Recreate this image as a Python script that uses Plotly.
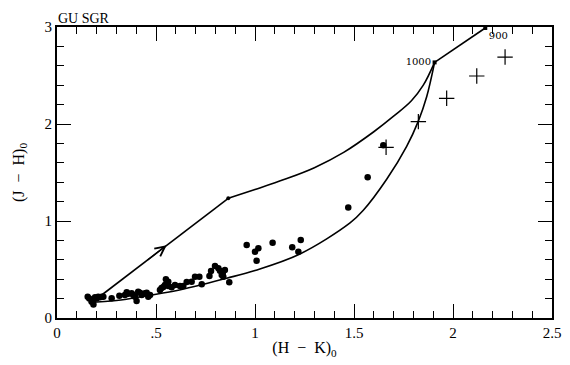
import plotly.graph_objects as go

# ---- data ----
dots_x = [0.155, 0.163, 0.175, 0.184, 0.184, 0.192, 0.200, 0.208, 0.217, 0.226, 0.234,
          0.276, 0.315, 0.343, 0.352, 0.360, 0.377, 0.385, 0.394, 0.402, 0.410, 0.419,
          0.428, 0.444, 0.453, 0.461, 0.470, 0.520, 0.528, 0.537, 0.545, 0.550, 0.562,
          0.562, 0.579, 0.596, 0.621, 0.638, 0.655, 0.680, 0.697, 0.719, 0.731, 0.770,
          0.778, 0.798, 0.815, 0.823, 0.832, 0.837, 0.848, 0.840, 0.870, 0.958, 1.000,
          1.017, 1.008, 1.089, 1.188, 1.219, 1.231, 1.471, 1.569, 1.648]
dots_y = [0.220, 0.200, 0.168, 0.140, 0.190, 0.213, 0.200, 0.220, 0.213, 0.220, 0.220,
          0.203, 0.230, 0.237, 0.265, 0.250, 0.254, 0.237, 0.220, 0.175, 0.271, 0.260,
          0.237, 0.254, 0.260, 0.220, 0.237, 0.289, 0.310, 0.320, 0.340, 0.399, 0.374,
          0.330, 0.316, 0.340, 0.330, 0.330, 0.370, 0.374, 0.426, 0.426, 0.347, 0.433,
          0.485, 0.536, 0.512, 0.488, 0.443, 0.460, 0.495, 0.426, 0.368, 0.753, 0.684,
          0.718, 0.591, 0.777, 0.729, 0.684, 0.804, 1.140, 1.450, 1.780]

plus_x = [1.662, 1.825, 1.968, 2.120, 2.263]
plus_y = [1.760, 2.025, 2.265, 2.495, 2.690]

# reddening vector / upper track
track_start_x = [0.226, 0.865]
track_start_y = [0.237, 1.234]
upper_curve_x = [0.865, 1.000, 1.150, 1.300, 1.450, 1.600, 1.700, 1.790, 1.850, 1.907]
upper_curve_y = [1.234, 1.325, 1.430, 1.550, 1.710, 1.920, 2.080, 2.240, 2.400, 2.635]
temp_x = [1.907, 2.163]
temp_y = [2.635, 2.990]
temp_labels = ["1000", "900"]

lower_curve_x = [0.160, 0.300, 0.470, 0.600, 0.857, 1.000, 1.227, 1.480, 1.547, 1.665,
                 1.766, 1.825, 1.867, 1.907]
lower_curve_y = [0.160, 0.180, 0.235, 0.280, 0.410, 0.490, 0.660, 0.980, 1.110, 1.430,
                 1.770, 2.030, 2.280, 2.635]

arrow_tip = (0.554, 0.750)
arrow_tail = (0.450, 0.587)

x_tickvals = [0, 0.5, 1, 1.5, 2, 2.5]
x_ticktext = ["0", ".5", "1", "1.5", "2", "2.5"]
y_tickvals = [0, 1, 2, 3]
y_ticktext = ["0", "1", "2", "3"]

FONT = "Liberation Serif"

fig = go.Figure()
line_style = dict(color="black", width=1.6)

fig.add_trace(go.Scatter(x=track_start_x, y=track_start_y, mode="lines", line=line_style))
fig.add_trace(go.Scatter(x=upper_curve_x, y=upper_curve_y, mode="lines",
                         line=dict(shape="spline", **line_style)))
fig.add_trace(go.Scatter(x=lower_curve_x, y=lower_curve_y, mode="lines",
                         line=dict(shape="spline", **line_style)))
fig.add_trace(go.Scatter(x=temp_x, y=temp_y, mode="lines+markers+text", line=line_style,
                         marker=dict(symbol="square", size=4, color="black"),
                         text=temp_labels, textposition=["middle left", "bottom right"],
                         textfont=dict(family="DejaVu Serif", size=10, color="black")))
fig.add_trace(go.Scatter(x=[track_start_x[1]], y=[track_start_y[1]], mode="markers",
                         marker=dict(size=4, color="black")))
fig.add_trace(go.Scatter(x=dots_x, y=dots_y, mode="markers",
                         marker=dict(size=6.5, color="black")))
fig.add_trace(go.Scatter(x=plus_x, y=plus_y, mode="markers",
                         marker=dict(symbol="cross-thin", size=11,
                                     line=dict(color="black", width=1.2))))

fig.add_annotation(x=arrow_tip[0], y=arrow_tip[1], ax=arrow_tail[0], ay=arrow_tail[1],
                   xref="x", yref="y", axref="x", ayref="y", text="", showarrow=True,
                   arrowhead=5, arrowsize=1.6, arrowwidth=1.2, arrowcolor="black")

fig.add_annotation(x=0, y=1, xref="paper", yref="paper", xanchor="left", yanchor="bottom",
                   yshift=0, borderpad=0, text="GU SGR", showarrow=False,
                   font=dict(family=FONT, size=14, color="black"))

axis_common = dict(showline=True, linewidth=2, linecolor="black", mirror="allticks",
                   ticks="inside", tickwidth=1.2, ticklen=14, tickcolor="black",
                   showgrid=False, zeroline=False, automargin=False,
                   tickfont=dict(family=FONT, size=15, color="black"))

fig.update_xaxes(range=[0, 2.5], tickvals=x_tickvals, ticktext=x_ticktext,
                 minor=dict(dtick=0.1, ticks="inside", ticklen=7, tickwidth=1, tickcolor="black"),
                 title=dict(text="(H\u2002\u2212\u2002K)<sub>0</sub>", standoff=2,
                            font=dict(family=FONT, size=16, color="black")),
                 **axis_common)
fig.update_yaxes(range=[0, 3], tickvals=y_tickvals, ticktext=y_ticktext,
                 minor=dict(dtick=0.2, ticks="inside", ticklen=7, tickwidth=1, tickcolor="black"),
                 title=dict(text="(J\u2002\u2212\u2002H)<sub>0</sub>", standoff=16,
                            font=dict(family=FONT, size=16, color="black")),
                 **axis_common)

# page body has an 8px default margin, so the figure is sized/offset to compensate
fig.update_layout(width=562, height=357, autosize=False, showlegend=False,
                  margin=dict(l=49, r=18, t=19, b=47),
                  plot_bgcolor="white", paper_bgcolor="white")

fig.write_html("out.html")
